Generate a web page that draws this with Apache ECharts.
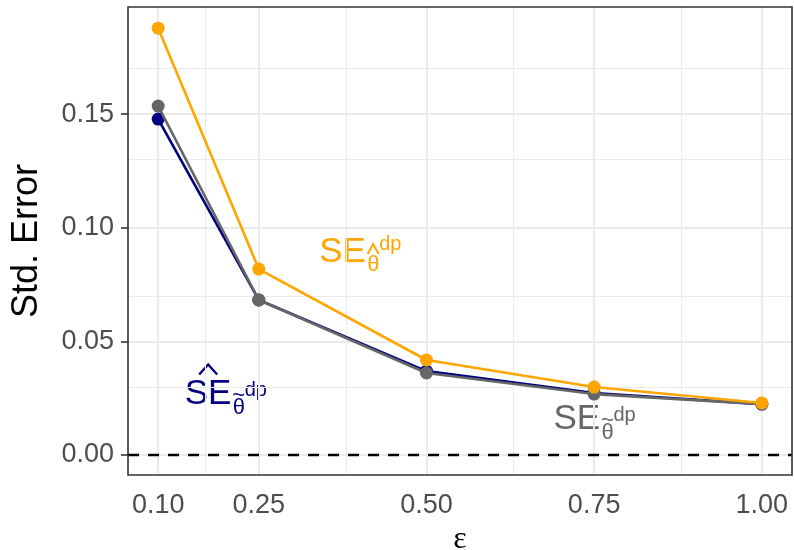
<!DOCTYPE html>
<html>
<head>
<meta charset="utf-8">
<script src="https://cdn.jsdelivr.net/npm/echarts@6/dist/echarts.min.js"></script>
<style>html,body{margin:0;padding:0;background:#fff}#c{width:794px;height:550px}</style>
</head>
<body>
<div id="c"></div>
<script>
const epsilon = [0.10, 0.25, 0.50, 0.75, 1.00];
const seHatTilde = [0.1478, 0.0682, 0.0369, 0.0273, 0.0224];   // navy
const seTilde    = [0.1535, 0.0682, 0.0361, 0.0268, 0.0224];   // gray
const seHat      = [0.1878, 0.0818, 0.0418, 0.0299, 0.0229];   // orange
const xTicks = [0.10, 0.25, 0.50, 0.75, 1.00];
const xMinor = [0.175, 0.375, 0.625, 0.875];
const yTicks = [0.00, 0.05, 0.10, 0.15];
const yMinor = [0.025, 0.075, 0.125, 0.175];

const FONT = 'Liberation Sans';
const C_NAVY = '#000080', C_GRAY = '#666666', C_ORANGE = '#FFA500';

const chart = echarts.init(document.getElementById('c'));
const pairs = v => epsilon.map((e, i) => [e, v[i]]);

const gridMajor = { color: '#EBEBEB', width: 2, type: 'solid' };
const gridMinor = { color: '#EBEBEB', width: 1, type: 'solid' };

function lineSeries(name, vals, color, z) {
  return {
    name, type: 'line', data: pairs(vals), z,
    symbol: 'circle', symbolSize: 13,
    lineStyle: { color, width: 2.6 },
    itemStyle: { color },
    silent: true, animation: false
  };
}

const option = {
  animation: false,
  grid: { left: 128, right: 2, top: 7, bottom: 75, containLabel: false, outerBoundsMode: 'none', show: true, borderColor: '#333333', borderWidth: 1.6, backgroundColor: 'transparent', z: 10 },
  xAxis: {
    type: 'value', min: 0.055, max: 1.045,
    name: 'ε', nameLocation: 'middle', nameGap: 48,
    nameTextStyle: { fontFamily: 'Liberation Serif', fontSize: 32, color: '#000' },
    axisLine: { show: false },
    axisTick: { show: true, customValues: xTicks, length: 7, lineStyle: { color: '#333333', width: 1.6 } },
    axisLabel: { customValues: xTicks, formatter: v => v.toFixed(2), fontFamily: FONT, fontSize: 27, color: '#4D4D4D', margin: 17 },
    splitLine: { show: false }
  },
  yAxis: {
    type: 'value', min: -0.0088, max: 0.1971,
    name: 'Std. Error', nameLocation: 'middle', nameGap: 83, nameRotate: 90,
    nameTextStyle: { fontFamily: FONT, fontSize: 36, color: '#000' },
    axisLine: { show: false },
    axisTick: { show: true, customValues: yTicks, length: 7, lineStyle: { color: '#333333', width: 1.6 } },
    axisLabel: { customValues: yTicks, formatter: v => v.toFixed(2), fontFamily: FONT, fontSize: 27, color: '#4D4D4D', margin: 14 },
    splitLine: { show: false }
  },
  series: [
    {
      type: 'line', data: [], z: 1, silent: true,
      markLine: {
        z: 1, silent: true, symbol: 'none', label: { show: false }, animation: false,
        data: [
          ...xMinor.map(v => ({ xAxis: v, lineStyle: gridMinor })),
          ...yMinor.map(v => ({ yAxis: v, lineStyle: gridMinor })),
          ...xTicks.map(v => ({ xAxis: v, lineStyle: gridMajor })),
          ...yTicks.map(v => ({ yAxis: v, lineStyle: gridMajor }))
        ]
      }
    },
    {
      type: 'line', data: [], z: 2, silent: true,
      markLine: {
        z: 2, silent: true, symbol: 'none', label: { show: false }, animation: false,
        data: [{ yAxis: 0, lineStyle: { color: '#000', width: 2.4, type: [11, 9] } }]
      }
    },
    lineSeries('navy', seHatTilde, C_NAVY, 3),
    lineSeries('gray', seTilde, C_GRAY, 4),
    lineSeries('orange', seHat, C_ORANGE, 5)
  ]
};
chart.setOption(option);

// annotation labels anchored in data coordinates (left edge of "SE", mid height)
const notes = [
  { at: [0.3400, 0.0893], color: C_ORANGE, seHat: false, thetaMark: 'hat' },
  { at: [0.1395, 0.0266], color: C_NAVY, seHat: true, thetaMark: 'tilde' },
  { at: [0.6894, 0.0156], color: C_GRAY, seHat: false, thetaMark: 'tilde' }
];

function buildNote(n) {
  const p = chart.convertToPixel({ gridIndex: 0 }, n.at);
  const ch = [];
  const txt = (text, x, y, size, extra) => ({
    type: 'text', x, y,
    style: Object.assign({ text, fill: n.color, fontFamily: FONT, fontSize: size, align: 'left', verticalAlign: 'middle' }, extra || {})
  });
  ch.push(txt('SE', 0, 0, 35));
  ch.push(txt('θ', 48, 13, 22));
  if (n.seHat) {
    ch.push({ type: 'polyline', x: 23.5, y: -25, shape: { points: [[-9, 5], [0, -5], [9, 5]] }, style: { stroke: n.color, lineWidth: 2.4, fill: null } });
  }
  if (n.thetaMark === 'hat') {
    ch.push({ type: 'polyline', x: 54, y: -3, shape: { points: [[-5.5, 5], [0, -5], [5.5, 5]] }, style: { stroke: n.color, lineWidth: 2, fill: null } });
    ch.push(txt('dp', 60, -8, 20));
  } else {
    ch.push(txt('~', 54, 1, 22, { align: 'center' }));
    ch.push(txt('dp', 60, -4, 20));
  }
  return { type: 'group', x: p[0], y: p[1], z: 20, children: ch, silent: true };
}
chart.setOption({ graphic: notes.map(buildNote) });
</script>
</body>
</html>
